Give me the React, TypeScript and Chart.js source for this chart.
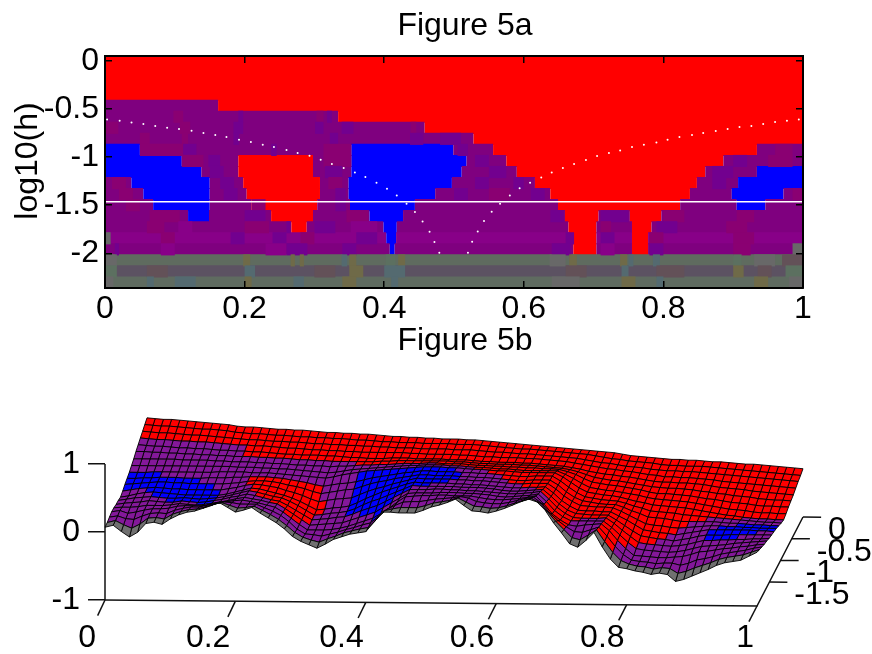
import React, { useEffect, useRef } from "react";
import { Chart, registerables } from "chart.js";

Chart.register(...registerables);

const FONT = "'Liberation Sans', Arial, sans-serif";
const FONT_SIZE = 32;

// ---------- Figure 5a: tick values and labels ----------
const xTicks = [0, 0.2, 0.4, 0.6, 0.8, 1];
const logTicks = [0, -0.5, -1, -1.5, -2];
const dotsLeftX = [.003,.021,.038,.055,.072,.089,.106,.124,.141,.158,.174,.192,.209,.226,.242,.26,.276,.293,.309,.325,.342,.358,.373,.389,.404,.418,.432,.444,.455,.465,.472,.479];
const dotsLeftY = [-.609,-.623,-.64,-.657,-.678,-.695,-.709,-.727,-.751,-.771,-.792,-.82,-.844,-.872,-.896,-.927,-.958,-.986,-1.028,-1.073,-1.114,-1.159,-1.208,-1.267,-1.329,-1.398,-1.485,-1.571,-1.668,-1.775,-1.883,-1.993];
const dotsRightX = [.52,.526,.534,.543,.554,.566,.58,.594,.609,.625,.64,.656,.672,.689,.705,.722,.738,.755,.772,.79,.806,.823,.841,.857,.875,.892,.909,.926,.943,.96,.977,.994];
const dotsRightY = [-1.993,-1.879,-1.772,-1.664,-1.568,-1.485,-1.398,-1.325,-1.267,-1.211,-1.159,-1.114,-1.073,-1.031,-.99,-.958,-.931,-.896,-.872,-.848,-.82,-.792,-.771,-.751,-.73,-.709,-.688,-.678,-.657,-.636,-.623,-.609];
const criticalLog = -1.465;

const logMax = 0.05;
const logMin = -2.36;

const colorCodes: Record<string, string> = {
  R: "#ff0000", B: "#0000ff", P: "#7f007f", V: "#72008f", M: "#8a0072", H: "#880088",
  G1: "#5f6b5f", G2: "#5c5262", G3: "#5f6b60", K: "#686868", O: "#6f6a48", T: "#546a70", N: "#5c7060", W: "#635158",
};

// each row, top to bottom: runs of [end of run on x, colour code]
const heatRows: [number, string][][] = [
  [[1, "R"]],
  [[1, "R"]],
  [[1, "R"]],
  [[1, "R"]],
  [[.162, "P"], [1, "R"]],
  [[.334, "P"], [1, "R"]],
  [[.458, "P"], [1, "R"]],
  [[.528, "P"], [1, "R"]],
  [[.05, "B"], [.353, "P"], [.499, "B"], [.556, "P"], [.934, "R"], [1, "P"]],
  [[.11, "B"], [.191, "P"], [.298, "R"], [.353, "P"], [.518, "B"], [.575, "P"], [.886, "R"], [1, "P"]],
  [[.138, "B"], [.191, "P"], [.298, "R"], [.353, "P"], [.511, "B"], [.59, "P"], [.86, "R"], [.934, "P"], [1, "B"]],
  [[.038, "P"], [.15, "B"], [.198, "P"], [.308, "R"], [.349, "P"], [.497, "B"], [.616, "P"], [.848, "R"], [.907, "P"], [1, "B"]],
  [[.055, "P"], [.15, "B"], [.203, "P"], [.308, "R"], [.349, "P"], [.473, "B"], [.638, "P"], [.838, "R"], [.898, "P"], [.972, "B"], [1, "P"]],
  [[.069, "P"], [.15, "B"], [.21, "P"], [.304, "R"], [.351, "P"], [.444, "B"], [.649, "P"], [.824, "R"], [.905, "P"], [.946, "B"], [1, "P"]],
  [[.119, "P"], [.149, "B"], [.238, "P"], [.298, "R"], [.379, "P"], [.427, "B"], [.659, "P"], [.707, "R"], [.752, "P"], [.797, "R"], [1, "P"]],
  [[.267, "P"], [.289, "R"], [.399, "P"], [.418, "B"], [.664, "P"], [.704, "R"], [.755, "P"], [.783, "R"], [1, "P"]],
  [[.403, "H"], [.417, "B"], [.666, "H"], [.704, "R"], [.755, "H"], [.778, "R"], [1, "H"]],
  [[.408, "P"], [.415, "B"], [.671, "P"], [.704, "R"], [.755, "P"], [.778, "R"], [1, "P"]],
  [[1, "G1"]],
  [[1, "G2"]],
  [[1, "G3"]],
];

// narrow colour streaks: [row, x from, x to, code]
const heatStreaks: [number, number, number, string][] = [
  [5, .098, .112, "M"], [5, .191, .198, "V"], [5, .303, .313, "M"], [5, .318, .325, "V"],
  [6, 0, .019, "M"], [6, .107, .122, "M"], [6, .184, .198, "V"], [6, .301, .313, "V"], [6, .339, .356, "V"], [6, .438, .446, "M"],
  [7, .05, .064, "M"], [7, .11, .119, "M"], [7, .184, .192, "V"], [7, .322, .334, "V"], [7, .437, .456, "V"], [7, .48, .51, "V"],
  [8, .05, .112, "M"], [8, .112, .131, "V"], [8, .238, .246, "V"], [8, .313, .353, "M"], [8, .505, .52, "V"], [8, .96, .985, "M"],
  [9, .11, .141, "M"], [9, .148, .165, "V"], [9, .313, .353, "M"], [9, .53, .55, "V"], [9, .9, .92, "V"], [9, .95, .985, "M"],
  [10, .15, .17, "V"], [10, .315, .34, "V"], [10, .55, .575, "V"], [10, .87, .9, "V"],
  [11, .01, .03, "M"], [11, .165, .185, "V"], [11, .32, .34, "M"], [11, .53, .55, "V"], [11, .585, .6, "V"], [11, .87, .89, "V"],
  [12, .02, .04, "M"], [12, .17, .19, "V"], [12, .33, .345, "V"], [12, .5, .52, "V"], [12, .55, .58, "M"], [12, .61, .63, "V"], [12, .985, 1, "M"],
  [13, .03, .05, "M"], [13, .21, .23, "M"], [13, .33, .345, "V"],
  [14, .064, .107, "M"], [14, .2, .23, "V"], [14, .346, .377, "M"], [14, .638, .657, "V"], [14, .71, .75, "V"], [14, .8, .83, "M"], [14, .905, .93, "M"],
  [15, .06, .085, "M"], [15, .105, .125, "H"], [15, .2, .235, "M"], [15, .26, .266, "V"], [15, .3, .33, "V"], [15, .352, .39, "H"], [15, .71, .725, "M"], [15, .79, .82, "V"], [15, .89, .92, "M"],
  [16, 0, .008, "K"], [16, .08, .1, "M"], [16, .18, .2, "V"], [16, .24, .26, "V"], [16, .28, .3, "M"], [16, .36, .39, "V"], [16, .66, .672, "V"], [16, .71, .73, "V"], [16, .78, .8, "M"], [16, .9, .93, "M"],
  [17, .014, .02, "V"], [17, .08, .1, "H"], [17, .23, .26, "H"], [17, .26, .29, "V"], [17, .34, .36, "V"], [17, .64, .668, "V"], [17, .71, .73, "H"], [17, .78, .8, "V"], [17, .9, .925, "M"], [17, .985, 1, "K"],
  [18, 0, .017, "K"], [18, .198, .208, "O"], [18, .266, .272, "O"], [18, .279, .285, "O"], [18, .339, .347, "T"], [18, .35, .36, "O"], [18, .402, .416, "N"], [18, .42, .43, "O"], [18, .637, .66, "K"], [18, .665, .676, "O"], [18, .738, .748, "O"], [18, .75, .757, "T"], [18, .785, .795, "T"], [18, .9, .912, "N"], [18, .93, .96, "K"], [18, .97, 1, "W"],
  [19, 0, .017, "N"], [19, .06, .09, "W"], [19, .2, .215, "T"], [19, .3, .33, "W"], [19, .35, .37, "O"], [19, .4, .43, "T"], [19, .66, .69, "W"], [19, .74, .75, "T"], [19, .79, .83, "W"], [19, .9, .915, "O"], [19, .935, .955, "W"], [19, .975, 1, "N"],
  [20, 0, .012, "K"], [20, .06, .07, "T"], [20, .1, .13, "T"], [20, .2, .21, "O"], [20, .27, .285, "T"], [20, .34, .36, "O"], [20, .41, .42, "T"], [20, .64, .68, "K"], [20, .74, .76, "O"], [20, .79, .8, "T"], [20, .93, .95, "O"], [20, .98, 1, "K"],
];

// ---------- Figure 5b: surface heights (z * 100), rows from y = 0 (back) to y = -2.05 (front), 81 columns ----------
const zRow00 = [37,36,35,35,34,33,32,31,30,29,28,26,25,25,24,23,22,22,21,21,20,19,18,18,17,17,16,16,15,14,13,13,12,12,11,11,10,10,10,9,9,8,7,6,5,4,3,2,1,0,-1,-2,-3,-4,-5,-6,-7,-8,-10,-12,-13,-14,-15,-16,-17,-17,-18,-18,-19,-20,-20,-21,-22,-23,-23,-24,-25,-26,-27,-28,-29];
const zRow01 = [34,33,32,32,31,30,29,28,28,27,26,24,23,22,22,21,20,20,19,18,18,17,17,16,16,15,14,14,13,12,12,11,11,11,10,10,10,10,9,9,9,8,7,6,5,4,3,3,2,1,0,-1,-2,-3,-4,-6,-8,-10,-11,-13,-14,-15,-16,-18,-19,-19,-20,-20,-20,-21,-22,-23,-24,-25,-26,-27,-28,-29,-30,-31,-32];
const zRow02 = [31,30,29,29,28,27,26,26,25,24,23,22,21,20,20,19,18,18,17,17,16,15,15,14,14,13,13,12,12,11,11,10,10,10,9,9,9,9,8,8,8,7,6,5,5,4,3,3,2,1,0,-1,-2,-3,-5,-7,-9,-10,-12,-14,-15,-16,-18,-19,-20,-20,-21,-21,-22,-23,-24,-25,-26,-27,-28,-29,-30,-31,-32,-33,-34];
const zRow03 = [28,27,26,26,25,24,24,23,23,22,21,20,19,19,18,18,17,16,15,15,14,13,13,12,12,11,11,10,10,10,10,10,10,9,9,8,8,8,8,7,7,6,5,5,4,4,4,3,3,2,1,0,-1,-3,-5,-7,-9,-11,-12,-14,-15,-17,-19,-20,-22,-22,-23,-23,-24,-25,-26,-28,-29,-30,-31,-32,-33,-34,-35,-36,-37];
const zRow04 = [25,24,23,23,22,21,21,20,20,19,18,18,17,17,16,16,15,14,13,13,12,12,12,11,11,10,9,9,8,8,8,9,9,9,8,8,8,8,7,7,7,6,5,5,4,4,4,3,3,2,1,0,-1,-3,-5,-8,-10,-12,-13,-15,-16,-18,-20,-22,-23,-23,-24,-24,-25,-26,-28,-30,-31,-32,-33,-35,-36,-37,-38,-39,-40];
const zRow05 = [22,22,21,21,20,20,19,19,18,18,17,17,16,16,16,15,15,14,14,13,12,12,11,11,10,10,10,10,10,10,11,11,12,12,12,12,12,12,12,11,11,10,9,9,8,8,8,7,7,6,5,4,3,1,-2,-6,-10,-12,-14,-15,-17,-19,-21,-23,-24,-25,-25,-26,-27,-29,-30,-32,-33,-35,-36,-37,-39,-40,-41,-41,-42];
const zRow06 = [18,18,18,18,18,18,17,17,17,17,16,16,15,15,15,14,14,13,13,12,11,11,10,10,9,10,10,11,12,12,13,13,14,15,15,15,16,16,15,15,15,14,13,13,12,12,11,11,10,10,9,9,8,5,1,-5,-10,-12,-14,-15,-17,-19,-21,-24,-26,-26,-27,-28,-29,-31,-33,-34,-36,-38,-39,-40,-42,-43,-43,-44,-44];
const zRow07 = [15,15,15,15,15,15,15,15,15,15,15,15,15,14,14,14,13,13,12,12,11,10,9,8,7,8,10,12,13,14,15,16,17,18,19,19,20,20,20,19,19,18,17,17,16,15,15,14,13,13,13,13,13,8,2,-5,-11,-13,-15,-16,-18,-20,-22,-25,-27,-28,-29,-30,-31,-33,-35,-37,-39,-41,-42,-43,-45,-46,-46,-47,-47];
const zRow08 = [12,12,12,13,13,13,13,13,13,13,13,14,14,14,14,13,13,13,12,11,10,9,8,7,6,8,11,13,15,17,18,19,20,21,22,23,24,24,24,23,23,22,21,21,20,19,19,18,17,17,17,17,17,11,3,-5,-11,-13,-15,-16,-18,-21,-24,-26,-29,-30,-31,-32,-33,-35,-37,-39,-41,-43,-44,-46,-47,-48,-48,-49,-49];
const zRow09 = [10,10,11,11,12,12,12,11,11,11,12,12,12,13,13,14,14,14,13,12,10,8,6,3,1,3,5,6,8,11,14,16,18,20,22,23,25,25,24,24,24,23,23,22,22,21,20,19,18,18,19,19,19,12,3,-5,-11,-13,-15,-16,-17,-20,-24,-27,-31,-32,-33,-34,-36,-37,-38,-39,-40,-41,-42,-43,-44,-45,-46,-46,-47];
const zRow10 = [8,9,10,11,12,12,11,11,10,10,10,10,10,11,12,14,15,15,14,12,9,7,4,0,-3,-1,1,3,4,8,12,15,17,20,22,24,26,26,25,25,25,24,24,23,23,22,21,20,19,19,20,20,20,13,3,-5,-10,-12,-14,-15,-15,-19,-24,-28,-33,-34,-35,-37,-39,-39,-39,-39,-39,-40,-41,-41,-42,-43,-43,-44,-44];
const zRow11 = [5,7,9,10,11,10,9,9,8,8,8,8,8,10,12,15,17,16,14,12,8,5,1,-4,-8,-6,-4,-3,-2,3,8,12,15,19,22,25,28,27,27,27,27,26,26,25,25,24,23,22,21,21,22,22,22,14,4,-4,-10,-11,-12,-12,-13,-18,-24,-30,-36,-38,-39,-41,-42,-41,-40,-39,-38,-38,-39,-39,-40,-40,-41,-41,-41];
const zRow12 = [3,5,8,10,11,10,9,8,7,7,7,7,7,9,12,15,18,17,14,11,8,4,-1,-7,-13,-12,-10,-9,-7,-2,4,9,14,18,22,26,29,28,28,28,28,27,27,26,26,25,24,23,22,22,23,23,24,15,4,-4,-10,-11,-11,-12,-12,-18,-24,-31,-38,-40,-42,-43,-45,-43,-41,-39,-37,-37,-37,-37,-37,-37,-38,-38,-39];
const zRow13 = [5,7,9,10,11,10,9,9,10,9,8,9,10,12,15,18,21,19,16,13,11,6,0,-7,-14,-13,-11,-10,-8,-4,2,7,11,16,21,26,31,30,30,30,30,30,29,29,29,28,27,25,24,24,25,26,27,17,6,-3,-8,-9,-10,-10,-10,-17,-25,-33,-40,-42,-44,-45,-47,-45,-43,-40,-38,-38,-38,-37,-37,-37,-37,-37,-37];
const zRow14 = [6,8,9,10,12,11,10,10,12,11,10,11,13,15,18,20,23,21,18,15,13,7,0,-7,-14,-13,-12,-10,-9,-5,0,4,8,14,20,26,32,32,32,33,33,32,32,31,31,30,29,28,27,27,28,29,31,20,8,-1,-7,-8,-8,-8,-7,-15,-25,-34,-43,-45,-46,-47,-48,-47,-45,-42,-39,-39,-38,-38,-37,-37,-36,-36,-35];
const zRow15 = [8,9,9,10,12,12,12,13,15,14,13,14,16,18,20,23,25,23,21,18,16,9,1,-7,-15,-14,-13,-12,-11,-7,-3,1,5,12,19,26,33,34,34,34,35,35,35,34,34,33,32,30,29,30,31,32,34,23,10,1,-5,-5,-5,-5,-5,-14,-25,-36,-45,-47,-48,-49,-50,-49,-47,-44,-41,-40,-39,-38,-36,-35,-34,-33,-32];
const zRow16 = [9,11,7,9,12,14,14,15,18,19,19,19,20,23,25,27,28,26,24,21,18,11,2,-7,-15,-15,-15,-14,-12,-9,-5,-1,3,10,18,27,35,36,37,37,38,38,37,37,37,35,33,32,32,33,34,36,38,26,12,3,-4,-6,-4,-3,-2,-12,-26,-38,-48,-49,-50,-51,-51,-50,-49,-46,-42,-41,-39,-37,-36,-34,-33,-31,-30];
const zRow17 = [8,10,6,5,10,14,15,14,19,22,24,24,27,30,32,31,29,29,29,24,19,13,4,-7,-14,-15,-17,-14,-11,-7,-4,0,3,13,23,29,34,35,35,37,39,40,41,43,41,36,34,33,33,35,38,41,43,34,20,9,0,-7,-8,-4,0,-13,-28,-40,-48,-50,-51,-53,-52,-52,-55,-52,-47,-45,-42,-38,-36,-34,-32,-29,-27];
const zRow18 = [7,10,4,-1,5,14,15,13,20,24,27,28,31,35,38,34,30,31,33,27,21,14,5,-5,-12,-16,-19,-14,-10,-5,-2,1,3,15,28,31,33,33,33,36,40,42,44,48,42,36,35,33,34,37,41,45,48,42,29,15,3,-9,-12,-5,3,-14,-30,-42,-47,-50,-51,-54,-52,-53,-60,-57,-52,-48,-44,-39,-36,-34,-32,-28,-24];
const zRow19 = [7,10,1,-7,0,13,15,12,20,26,30,32,36,40,45,38,31,34,38,30,23,16,7,-4,-11,-16,-21,-15,-8,-4,0,2,4,18,33,33,32,32,32,36,41,44,48,53,44,36,35,33,36,40,45,50,54,50,38,20,5,-11,-16,-6,6,-15,-33,-45,-47,-50,-52,-55,-53,-55,-65,-62,-57,-52,-47,-41,-37,-35,-33,-27,-21];
const zRows = [zRow00,zRow01,zRow02,zRow03,zRow04,zRow05,zRow06,zRow07,zRow08,zRow09,zRow10,zRow11,zRow12,zRow13,zRow14,zRow15,zRow16,zRow17,zRow18,zRow19];
// the image row that colours each row of surface cells
const surfaceHeatRow = [0,1,2,4,4,5,6,7,8,9,10,11,12,13,14,15,16,17,18];
const surfaceColors: Record<string, string> = { R: "#ff0000", B: "#0000ff", P: "#84189a", H: "#84189a", G1: "#707070" };

const zTicks = [-1, 0, 1];
const yTicks = [0, -0.5, -1, -1.5];
const yFront = -2.05;
// small sideways nudge of the slanted box's x tick labels, one per tick
const xLabelNudge = [-9, -5, -2, -2, -2, -3];

// view of the 3D box: the picture's own axes are the chart's u and v scales
function project(x: number, y: number, z: number) {
  const depth = (y - yFront) / -yFront;
  return { x: x + (depth * (42 + 4 * x)) / 652, y: z + (depth * 89 - 6 * x) / 68 };
}

function colorAt(row: [number, string][], x: number) {
  for (const [end, code] of row) if (x <= end) return code;
  return row[row.length - 1][1];
}

const axisFont = { family: FONT, size: FONT_SIZE, weight: "normal" as const };
const fixedTicks = (values: number[]) => (scale: any) => { scale.ticks = values.map((value) => ({ value })); };

function topChart(canvas: HTMLCanvasElement) {
  const rowCenters = heatRows.map((_, i) => logMax - ((i + 0.5) * (logMax - logMin)) / heatRows.length);
  const barData: any[] = [];
  const barColors: string[] = [];
  heatRows.forEach((runs, r) => {
    let start = 0;
    for (const [end, code] of runs) {
      barData.push({ x: [start, end], y: rowCenters[r] });
      barColors.push(colorCodes[code]);
      start = end;
    }
  });
  const streakData = heatStreaks.map(([r, a, b]) => ({ x: [a, b], y: rowCenters[r] }));
  const streakColors = heatStreaks.map(([, , , c]) => colorCodes[c]);
  const barCommon = { type: "bar" as const, indexAxis: "y" as const, grouped: false, barPercentage: 1.1, categoryPercentage: 1, borderWidth: 0, xAxisID: "x", yAxisID: "y" };
  const tickGrid = { drawOnChartArea: false, tickLength: -7, color: "#000", lineWidth: 1.5, z: 1, offset: false };
  const border = { color: "#000", width: 2, z: 1 };
  return new Chart(canvas, {
    type: "scatter",
    data: {
      datasets: [
        { type: "scatter", data: [...dotsLeftX.map((x, i) => ({ x, y: dotsLeftY[i] })), ...dotsRightX.map((x, i) => ({ x, y: dotsRightY[i] }))], pointRadius: 1, pointBorderWidth: 0, pointBackgroundColor: "#ffffff", order: 0, xAxisID: "x", yAxisID: "y" },
        { type: "scatter", data: [{ x: 0, y: criticalLog }, { x: 1, y: criticalLog }], showLine: true, borderColor: "#ffffff", borderWidth: 1.5, pointRadius: 0, order: 1, xAxisID: "x", yAxisID: "y" },
        { ...barCommon, data: streakData, backgroundColor: streakColors, order: 2 },
        { ...barCommon, data: barData, backgroundColor: barColors, order: 3 },
      ] as any,
    },
    options: {
      responsive: false,
      animation: false,
      events: [],
      layout: { padding: 0 },
      plugins: {
        legend: { display: false },
        tooltip: { enabled: false },
        title: { display: true, text: "Figure 5a", color: "#000", font: axisFont, padding: { top: 7, bottom: 10.6 } },
      },
      scales: {
        x: {
          type: "linear", position: "bottom", min: 0, max: 1, offset: false,
          afterBuildTicks: fixedTicks(xTicks), afterFit: (s: any) => { s.height = 52; },
          grid: tickGrid, border,
          ticks: { color: "#000", font: axisFont, padding: 9, maxRotation: 0, autoSkip: false, callback: (v: any) => String(v) },
        },
        x2: {
          type: "linear", position: "top", min: 0, max: 1,
          afterBuildTicks: fixedTicks(xTicks), afterFit: (s: any) => { s.height = 0; },
          grid: tickGrid, border, ticks: { display: false },
        },
        y: {
          type: "linear", position: "left", min: logMin, max: logMax, offset: false,
          afterBuildTicks: fixedTicks(logTicks), afterFit: (s: any) => { s.width = 105; },
          grid: tickGrid, border,
          title: { display: true, text: "log10(h)", color: "#000", font: axisFont, padding: { top: 9, bottom: 0 } },
          ticks: { color: "#000", font: axisFont, padding: 13, autoSkip: false, callback: (v: any) => String(v) },
        },
        y2: {
          type: "linear", position: "right", min: logMin, max: logMax,
          afterBuildTicks: fixedTicks(logTicks), afterFit: (s: any) => { s.width = 127; },
          grid: tickGrid, border, ticks: { display: false },
        },
      } as any,
    },
    plugins: [{
      id: "raiseAxisTitle",
      afterLayout(chart: any) {
        const s = chart.scales.y;
        if (s.$raised) return;
        s.$raised = true;
        const draw = s.drawTitle.bind(s);
        s.drawTitle = () => { const b = s.bottom; s.bottom = b - 22; draw(); s.bottom = b; };
      },
    }],
  });
}

function bottomChart(canvas: HTMLCanvasElement) {
  const columns = zRows[0].length;
  const node = (i: number, j: number) => {
    const row = zRows[j];
    const z = row[Math.min(i, row.length - 1)] / 100;
    return project(i / (columns - 1), (yFront * j) / (zRows.length - 1), z);
  };
  const datasets: any[] = [];
  for (let j = 0; j < zRows.length - 1; j++) {
    const runs = heatRows[surfaceHeatRow[j]];
    for (let i = 0; i < columns - 1; i++) {
      const code = colorAt(runs, (i + 0.5) / (columns - 1));
      const a = node(i, j), b = node(i + 1, j), c = node(i + 1, j + 1), d = node(i, j + 1);
      datasets.push({
        type: "scatter", data: [a, b, c, d, a], showLine: true, fill: "shape",
        backgroundColor: surfaceColors[code], borderColor: "#000", borderWidth: 0.9,
        pointRadius: 0, clip: false, order: 100 - j,
      });
    }
  }
  const axisLine = (pts: { x: number; y: number }[]) => ({
    type: "scatter", data: pts, showLine: true, borderColor: "#111", borderWidth: 1.5, pointRadius: 0, clip: false, order: 200,
  });
  datasets.push(axisLine([project(0, yFront, -1), project(0, yFront, 1)]));
  datasets.push(axisLine([project(0, yFront, -1), project(1, yFront, -1), project(1, 0, -1)]));
  xTicks.forEach((x) => datasets.push(axisLine([project(x, yFront, -1), project(x, yFront - 0.36, -1)])));
  yTicks.forEach((y) => datasets.push(axisLine([project(1, y, -1), project(1.0276, y, -1)])));

  return new Chart(canvas, {
    type: "scatter",
    data: { datasets },
    options: {
      responsive: false,
      animation: false,
      events: [],
      layout: { padding: 0 },
      plugins: {
        legend: { display: false },
        tooltip: { enabled: false },
        title: { display: true, text: "Figure 5b", color: "#000", font: axisFont, padding: { top: 9, bottom: 39.6 } },
      },
      scales: {
        x: {
          type: "linear", position: "bottom", min: 0, max: 1.12,
          afterBuildTicks: fixedTicks(xTicks), afterFit: (s: any) => { s.height = 54; },
          grid: { display: false, drawTicks: false }, border: { display: false },
          ticks: { color: "#000", font: axisFont, align: "end", padding: 19, maxRotation: 0, autoSkip: false, callback: (v: any) => String(v) },
        },
        y: {
          type: "linear", position: "left", min: -1, max: 1 + 64 / 68,
          afterBuildTicks: fixedTicks(zTicks), afterFit: (s: any) => { s.width = 105; },
          grid: { drawOnChartArea: false, tickLength: 17, color: "#111", lineWidth: 1.5 }, border: { display: false },
          ticks: { color: "#000", font: axisFont, padding: 8, autoSkip: false, callback: (v: any) => String(v) },
        },
        yPad: {
          type: "linear", position: "right", min: 0, max: 1,
          afterBuildTicks: fixedTicks([]), afterFit: (s: any) => { s.width = 930 - 105 - 652 * 1.12; },
          grid: { display: false }, border: { display: false }, ticks: { display: false },
        },
      } as any,
    },
    plugins: [{
      id: "depthAxisLabels",
      beforeDraw(chart: any) {
        const s = chart.scales.x;
        if (s.$nudged) return;
        s.$nudged = true;
        s.getLabelItems(chart.chartArea).forEach((item: any, i: number) => {
          item.options.translation[0] += xLabelNudge[i] ?? 0;
        });
      },
      afterDraw(chart: any) {
        const { ctx, scales } = chart;
        ctx.save();
        ctx.font = `${FONT_SIZE}px ${FONT}`;
        ctx.fillStyle = "#000";
        ctx.textAlign = "left";
        ctx.textBaseline = "middle";
        yTicks.forEach((y) => {
          const p = project(1, y, -1);
          ctx.fillText(String(y), scales.x.getPixelForValue(p.x) + 25, scales.y.getPixelForValue(p.y) + 13);
        });
        ctx.restore();
      },
    }],
  });
}

export default function App() {
  const topRef = useRef<HTMLCanvasElement>(null);
  const bottomRef = useRef<HTMLCanvasElement>(null);
  useEffect(() => {
    const a = topChart(topRef.current!);
    const b = bottomChart(bottomRef.current!);
    return () => { a.destroy(); b.destroy(); };
  }, []);
  return (
    <div style={{ position: "absolute", left: 0, top: 0, width: 872, height: 654, overflow: "hidden", background: "#fff" }}>
      <canvas ref={topRef} width={930} height={340} style={{ position: "absolute", left: 0, top: 0, display: "block" }} />
      <canvas ref={bottomRef} width={930} height={341} style={{ position: "absolute", left: 0, top: 313, display: "block" }} />
    </div>
  );
}
